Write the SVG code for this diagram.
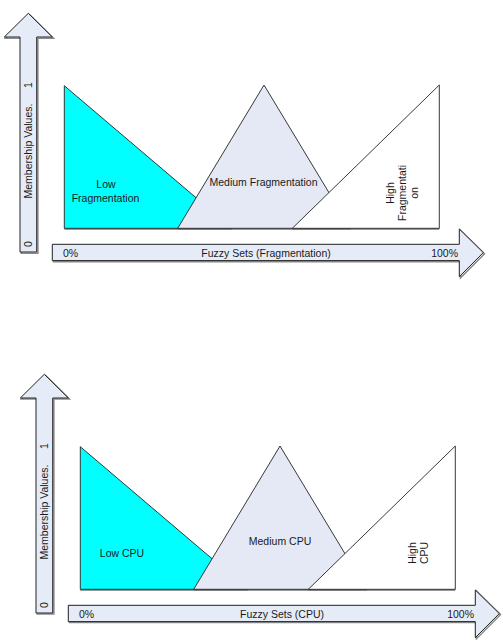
<svg xmlns="http://www.w3.org/2000/svg" width="503" height="643" viewBox="0 0 503 643">
<defs>
<style>
.arr{fill:#E6ECF7;stroke:#222;stroke-width:1}
.sh{fill:none;stroke:#8a8a8a;stroke-width:1.5}
.low{fill:#00FFFF;stroke:#222;stroke-width:0.9}
.med{fill:#E4E9F5;stroke:#222;stroke-width:0.9}
.high{fill:#FFFFFF;stroke:#222;stroke-width:0.9}
.base{stroke:#777;stroke-width:1.5}
text{font-family:"Liberation Sans",Arial,sans-serif;font-size:10.5px;fill:#1a1a1a}
.c{text-anchor:middle}
.e{text-anchor:end}
</style>
<path id="vArrow" d="M20,252 L20,37 L4.3,37 L28.3,13.3 L52.3,37 L36.7,37 L36.7,252 Z"/>
<path id="hArrow" d="M52.3,244.3 L459.3,244.3 L459.3,229 L483.3,252.6 L459.3,276.7 L459.3,260.6 L52.3,260.6 Z"/>
</defs>

<!-- ===== Top chart: Fragmentation ===== -->
<g id="frag-y-axis">
<use href="#vArrow" class="sh" transform="translate(1.2,1.2)"/>
<use href="#vArrow" class="arr"/>
<text class="c" transform="translate(28,151) rotate(-90)" dy=".35em">Membership Values.</text>
<text class="c" transform="translate(28,85) rotate(-90)" dy=".35em">1</text>
<text class="c" transform="translate(28,244) rotate(-90)" dy=".35em">0</text>
</g>
<g id="frag-x-axis">
<use href="#hArrow" class="sh" transform="translate(1.2,1.2)"/>
<use href="#hArrow" class="arr"/>
<text x="63" y="256.5">0%</text>
<text class="c" x="266" y="256.5">Fuzzy Sets (Fragmentation)</text>
<text class="e" x="458" y="256.5">100%</text>
</g>
<g id="frag-low">
<line class="base" x1="64.3" y1="229" x2="232" y2="229"/>
<polygon class="low" points="64.3,85.7 64.3,228.3 232,228.3"/>
<text class="c" x="106" y="188">Low</text>
<text class="c" x="105.5" y="201.5">Fragmentation</text>
</g>
<g id="frag-medium">
<line class="base" x1="177.7" y1="229" x2="351" y2="229"/>
<polygon class="med" points="177.7,228.3 264,85 350.5,228.3"/>
<text class="c" x="263.5" y="186">Medium Fragmentation</text>
</g>
<g id="frag-high">
<line class="base" x1="292.3" y1="229" x2="439.3" y2="229"/>
<polygon class="high" points="292.3,228.3 439.3,85 439.3,228.3"/>
<text class="c" transform="translate(390,193) rotate(-90)" dy=".35em">High</text>
<text class="c" transform="translate(402,193) rotate(-90)" dy=".35em">Fragmentati</text>
<text class="c" transform="translate(414,193) rotate(-90)" dy=".35em">on</text>
</g>

<!-- ===== Bottom chart: CPU ===== -->
<g id="cpu-y-axis">
<use href="#vArrow" class="sh" transform="translate(17.2,362)"/>
<use href="#vArrow" class="arr" transform="translate(16,361)"/>
<text class="c" transform="translate(44,512) rotate(-90)" dy=".35em">Membership Values.</text>
<text class="c" transform="translate(44,446) rotate(-90)" dy=".35em">1</text>
<text class="c" transform="translate(44,605) rotate(-90)" dy=".35em">0</text>
</g>
<g id="cpu-x-axis">
<use href="#hArrow" class="sh" transform="translate(17.2,362)"/>
<use href="#hArrow" class="arr" transform="translate(16,361)"/>
<text x="79" y="617.5">0%</text>
<text class="c" x="282" y="617.5">Fuzzy Sets (CPU)</text>
<text class="e" x="474" y="617.5">100%</text>
</g>
<g id="cpu-low">
<line class="base" x1="80.3" y1="590" x2="248" y2="590"/>
<polygon class="low" points="80.3,446.7 80.3,589.3 248,589.3"/>
<text class="c" x="122" y="556.5">Low CPU</text>
</g>
<g id="cpu-medium">
<line class="base" x1="193.7" y1="590" x2="367" y2="590"/>
<polygon class="med" points="193.7,589.3 280,446 366.5,589.3"/>
<text class="c" x="280" y="545">Medium CPU</text>
</g>
<g id="cpu-high">
<line class="base" x1="308.3" y1="590" x2="455.3" y2="590"/>
<polygon class="high" points="308.3,589.3 455.3,446 455.3,589.3"/>
<text class="c" transform="translate(412,553) rotate(-90)" dy=".35em">High</text>
<text class="c" transform="translate(424,553) rotate(-90)" dy=".35em">CPU</text>
</g>
</svg>
